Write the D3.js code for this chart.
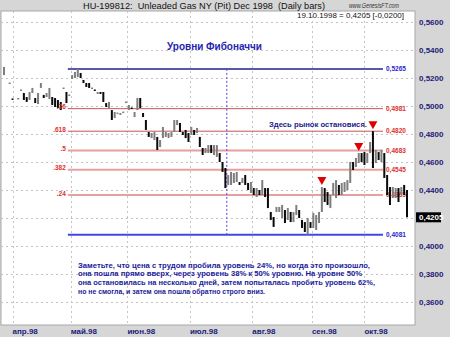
<!DOCTYPE html>
<html>
<head>
<meta charset="utf-8">
<script src="https://cdn.jsdelivr.net/npm/d3@7"></script>
<style>
  body { margin: 0; background: #d6d6d6; }
  svg { display: block; }
  text { font-family: "Liberation Sans", Arial, sans-serif; }
</style>
</head>
<body>
<div id="chart"></div>
<script>
const chartTitle = "HU-199812:  Unleaded Gas NY (Pit) Dec 1998  (Daily bars)";
const siteLabel = "www.GenesisFT.com";
const lastInfo = "19.10.1998 = 0,4205 [-0,0200]";
const fibTitle = "Уровни Фибоначчи";
const stopNote = "Здесь рынок остановися.";
const noteLines = [
  "Заметьте, что цена с трудом пробила уровень 24%, но когда это произошло,",
  "она пошла прямо вверх, через уровень 38% к 50% уровню. На уровне 50%",
  "она остановилась на несколько дней, затем попыталась пробить уровень 62%,",
  "но не смогла, и затем она пошла обратно строго вниз."
];

const monthLabels = ["апр.98", "май.98", "июн.98", "июл.98", "авг.98", "сен.98", "окт.98"];
const monthTickDay = [3, 23.5, 43.5, 65.5, 87.5, 108.5, 127];
const yTicks = [0.36, 0.38, 0.40, 0.42, 0.44, 0.46, 0.48, 0.50, 0.52, 0.54, 0.56];

// daily bars, one slot per trading day (null = no bar)
const barHigh = [
  .5279, null, .5168, .5054, null, .5057, .5118, .5093, .5064, .5100,
  .5129, .5057, .5093, .5164, .5079, .5093, .5129, .5064, .5057, .5043,
  .5029, .5132, .5100, .5082, .5221, .5243, .5265, .5236, .5186, .5164,
  .5164, .5132, .5118, .5100, .5100, .5100, .5021, .5029, .4971, .4957,
  .4953, .4950, .4960, .5032, .5007, .4989, .4957, .5057, .5057, .4950,
  .4900, .4814, .4807, .4814, .4779, .4757, .4850, .4814, .4807, .4814,
  .4900, .4900, .4879, .4814, .4829, .4807, .4850, .4829, .4843, .4779,
  .4700, .4700, .4721, .4721, .4721, .4721, .4664, .4600, .4557, .4507,
  .4529, .4521, .4529, .4457, .4486, .4507, .4450, .4457, .4414, .4414,
  .4400, .4471, .4414, .4414, .4243, .4207, .4279, .4279, .4293, .4257,
  .4271, .4243, .4243, .4293, .4257, .4186, .4171, .4200, .4171, .4236,
  .4221, .4243, .4421, .4414, .4386, .4364, .4450, .4471, .4436, .4450,
  .4457, .4471, .4600, .4600, .4629, .4664, .4664, .4671, .4664, .4743,
  .4820, .4686, .4671, .4686, .4664, .4507, .4421, .4421, .4414, .4414,
  .4421, .4436, .4400
];
const barLow = [
  .5221, null, .5160, .5046, null, .5050, .5110, .5043, .5029, .5043,
  .5093, .5021, .5014, .5129, .5057, .5064, .5050, .5007, .4993, .4986,
  .4971, .5125, .5021, .5075, .5193, .5200, .5207, .5200, .5164, .5136,
  .5129, .5125, .5110, .5086, .5086, .5029, .4993, .4986, .4900, .4914,
  .4946, .4936, .4953, .5025, .4971, .4982, .4921, .4971, .4986, .4921,
  .4829, .4779, .4771, .4757, .4686, .4707, .4771, .4779, .4771, .4779,
  .4814, .4864, .4814, .4793, .4771, .4743, .4793, .4793, .4807, .4707,
  .4650, .4664, .4664, .4664, .4650, .4636, .4600, .4529, .4414, .4436,
  .4436, .4450, .4457, .4436, .4450, .4436, .4400, .4379, .4364, .4350,
  .4364, .4364, .4350, .4271, .4186, .4136, .4243, .4243, .4200, .4164,
  .4186, .4171, .4171, .4221, .4200, .4129, .4100, .4081, .4129, .4129,
  .4114, .4164, .4243, .4314, .4293, .4271, .4364, .4343, .4364, .4364,
  .4386, .4400, .4450, .4543, .4564, .4593, .4600, .4579, .4593, .4664,
  .4557, .4593, .4614, .4600, .4486, .4364, .4293, .4343, .4343, .4314,
  .4364, .4364, .4205
];
const barUp = [
  1, 0, 1, 0, 0, 1, 1, 0, 0, 1,
  1, 0, 1, 1, 0, 1, 1, 0, 0, 0,
  0, 1, 0, 1, 1, 1, 1, 0, 0, 0,
  0, 1, 0, 1, 0, 0, 0, 1, 0, 1,
  1, 1, 1, 1, 1, 0, 1, 1, 0, 0,
  0, 0, 1, 1, 0, 1, 1, 1, 1, 1,
  1, 1, 0, 0, 0, 0, 1, 0, 1, 0,
  0, 1, 1, 0, 1, 1, 0, 0, 0, 1,
  1, 1, 1, 0, 1, 0, 0, 1, 0, 1,
  0, 1, 0, 0, 0, 0, 1, 1, 1, 0,
  1, 0, 1, 1, 0, 0, 0, 1, 0, 1,
  1, 1, 1, 0, 0, 1, 1, 1, 0, 1,
  1, 1, 1, 0, 1, 1, 0, 0, 1, 1,
  0, 1, 0, 1, 0, 0, 0, 1, 1, 0,
  1, 0, 0
];

const fibHigh = 0.5265;
const fibLow = 0.4081;
const fibRatios = [".76", ".618", ".5", ".382", ".24"];
const fibValues = [0.4981, 0.4820, 0.4683, 0.4545, 0.4365];
const fibFromDay = 22.5;
const breakDay = 78.5;
const markerDays = [112, 125, 130];
const lastPrice = 0.4205;

const width = 450, height = 337;
const plot = { left: 1, top: 11, right: 415, bottom: 325 };
const fmt = v => d3.format(".4f")(v).replace(".", ",");

const svg = d3.select("#chart").append("svg").attr("width", width).attr("height", height);

svg.append("rect").attr("width", width).attr("height", height).attr("fill", "#d6d6d6");
svg.append("rect")
  .attr("x", plot.left).attr("y", plot.top)
  .attr("width", plot.right - plot.left).attr("height", plot.bottom - plot.top)
  .attr("fill", "#fff").attr("stroke", "#a8a8a8");

const x = d3.scaleLinear().domain([0, barHigh.length - 1]).range([4, 407]);
const y = d3.scaleLinear().domain([0.36, 0.56]).range([302, 22]);

// grid
svg.append("g").selectAll("line").data(yTicks).join("line")
  .attr("x1", plot.left).attr("x2", plot.right + 2)
  .attr("y1", d => Math.round(y(d)) + 0.5).attr("y2", d => Math.round(y(d)) + 0.5)
  .attr("stroke", "#c4c4c4").attr("stroke-dasharray", "2,3");
svg.append("g").selectAll("line").data(monthTickDay).join("line")
  .attr("x1", d => Math.round(x(d)) + 0.5).attr("x2", d => Math.round(x(d)) + 0.5)
  .attr("y1", plot.top).attr("y2", plot.bottom)
  .attr("stroke", "#c4c4c4").attr("stroke-dasharray", "2,3");

// right axis (the last-price tag takes the place of a label it would overlap)
const labelTicks = yTicks.filter(t => Math.abs(y(t) - y(lastPrice)) > 8);
const yAxis = svg.append("g")
  .attr("transform", `translate(${plot.right + 1},0)`)
  .call(d3.axisRight(y).tickValues(labelTicks).tickFormat(fmt).tickSize(0).tickPadding(3));
yAxis.select(".domain").remove();
yAxis.selectAll("text")
  .attr("fill", "#1c1c78").attr("font-size", 8).attr("font-weight", "bold")
  .attr("font-family", "Liberation Sans, Arial, sans-serif");

// month labels
svg.append("g").selectAll("text").data(monthLabels).join("text")
  .attr("x", (d, i) => x(monthTickDay[i]))
  .attr("y", 334)
  .attr("fill", "#1c1c78").attr("font-size", 8).attr("font-weight", "bold")
  .text(d => d);

// fibonacci levels
const fibX1 = x(fibFromDay), fibX2 = 383;
const levels = svg.append("g");
levels.selectAll("line.red").data(fibValues).join("line")
  .attr("class", "red")
  .attr("x1", fibX1).attr("x2", fibX2)
  .attr("y1", d => y(d)).attr("y2", d => y(d))
  .attr("stroke", (d, i) => i < 2 ? "#c25656" : "#e6a0a0")
  .attr("stroke-width", (d, i) => i < 2 ? 1 : 2);
levels.selectAll("line.blue").data([fibHigh, fibLow]).join("line")
  .attr("class", "blue")
  .attr("x1", fibX1).attr("x2", fibX2)
  .attr("y1", d => y(d)).attr("y2", d => y(d))
  .attr("stroke", (d, i) => i === 0 ? "#22228e" : "#4646e6")
  .attr("stroke-width", (d, i) => i === 0 ? 1.5 : 2);
levels.selectAll("text.val").data(fibValues).join("text")
  .attr("class", "val")
  .attr("x", fibX2 + 3).attr("y", d => y(d))
  .attr("dy", "0.35em")
  .attr("fill", "#e03030").attr("font-size", 6.5).attr("font-weight", "bold")
  .text(d => fmt(d));
levels.selectAll("text.bval").data([fibHigh, fibLow]).join("text")
  .attr("class", "bval")
  .attr("x", fibX2 + 3).attr("y", d => y(d))
  .attr("dy", "0.35em")
  .attr("fill", "#2a2ad0").attr("font-size", 6.5).attr("font-weight", "bold")
  .text(d => fmt(d));

svg.append("line")
  .attr("x1", x(breakDay)).attr("x2", x(breakDay))
  .attr("y1", y(fibHigh)).attr("y2", y(fibLow))
  .attr("stroke", "#6a3cd0").attr("stroke-dasharray", "2,2");

// bars
const bars = d3.range(barHigh.length)
  .filter(i => barHigh[i] != null)
  .map(i => ({ i, h: barHigh[i], l: barLow[i], up: barUp[i] === 1 }));

svg.append("g").selectAll("rect").data(bars).join("rect")
  .attr("x", d => x(d.i) - 1)
  .attr("width", 2)
  .attr("y", d => y(d.h))
  .attr("height", d => Math.max(1.5, y(d.l) - y(d.h)))
  .attr("fill", d => d.up ? "#7e7e7e" : "#0a0a0a");

// ratio labels sit on top of the bars
svg.append("g").selectAll("text").data(fibRatios).join("text")
  .attr("x", fibX1 - 2).attr("y", (d, i) => y(fibValues[i]) - 1.5)
  .attr("dy", "0.35em").attr("text-anchor", "end")
  .attr("fill", "#e03030").attr("font-size", 6.5).attr("font-weight", "bold")
  .text(d => d);

// stop markers
svg.append("g").selectAll("path").data(markerDays).join("path")
  .attr("transform", d => `translate(${x(d)},${y(barHigh[d]) - 2})`)
  .attr("d", "M-4.5,-8L4.5,-8L0,0Z")
  .attr("fill", "#e00000");

// texts
svg.append("text")
  .attr("x", 204).attr("y", 8.5).attr("text-anchor", "middle")
  .attr("font-size", 9.5).attr("fill", "#111")
  .attr("textLength", 242).attr("lengthAdjust", "spacingAndGlyphs")
  .style("white-space", "pre")
  .text(chartTitle);
svg.append("text")
  .attr("x", 349).attr("y", 7.5)
  .attr("font-size", 6.5).attr("font-style", "italic").attr("fill", "#333")
  .attr("textLength", 50).attr("lengthAdjust", "spacingAndGlyphs")
  .text(siteLabel);
svg.append("text")
  .attr("x", 297).attr("y", 18)
  .attr("font-size", 8).attr("fill", "#111")
  .attr("textLength", 107).attr("lengthAdjust", "spacingAndGlyphs")
  .text(lastInfo);

svg.append("text")
  .attr("x", 167).attr("y", 50)
  .attr("font-family", "DejaVu Sans Mono, monospace")
  .attr("font-size", 10).attr("font-weight", "bold").attr("fill", "#2424b0")
  .attr("textLength", 95).attr("lengthAdjust", "spacingAndGlyphs")
  .text(fibTitle);

svg.append("text")
  .attr("x", 269).attr("y", 127)
  .attr("font-size", 8).attr("font-weight", "bold").attr("fill", "#1a1a8c")
  .attr("textLength", 98).attr("lengthAdjust", "spacingAndGlyphs")
  .text(stopNote);

const noteWidths = [292, 284, 297, 187];
svg.append("g").selectAll("text").data(noteLines).join("text")
  .attr("x", 78).attr("y", (d, i) => 267.5 + i * 8.8)
  .attr("font-size", 7.5).attr("font-weight", "bold").attr("fill", "#1a1a9a")
  .attr("textLength", (d, i) => noteWidths[i]).attr("lengthAdjust", "spacingAndGlyphs")
  .text(d => d);

// last price tag
svg.append("rect")
  .attr("x", plot.right + 1).attr("y", y(lastPrice) - 5)
  .attr("width", 25).attr("height", 10).attr("fill", "#000");
svg.append("text")
  .attr("x", plot.right + 4).attr("y", y(lastPrice)).attr("dy", "0.35em")
  .attr("font-size", 8).attr("font-weight", "bold").attr("fill", "#fff")
  .text(fmt(lastPrice));
</script>
</body>
</html>
